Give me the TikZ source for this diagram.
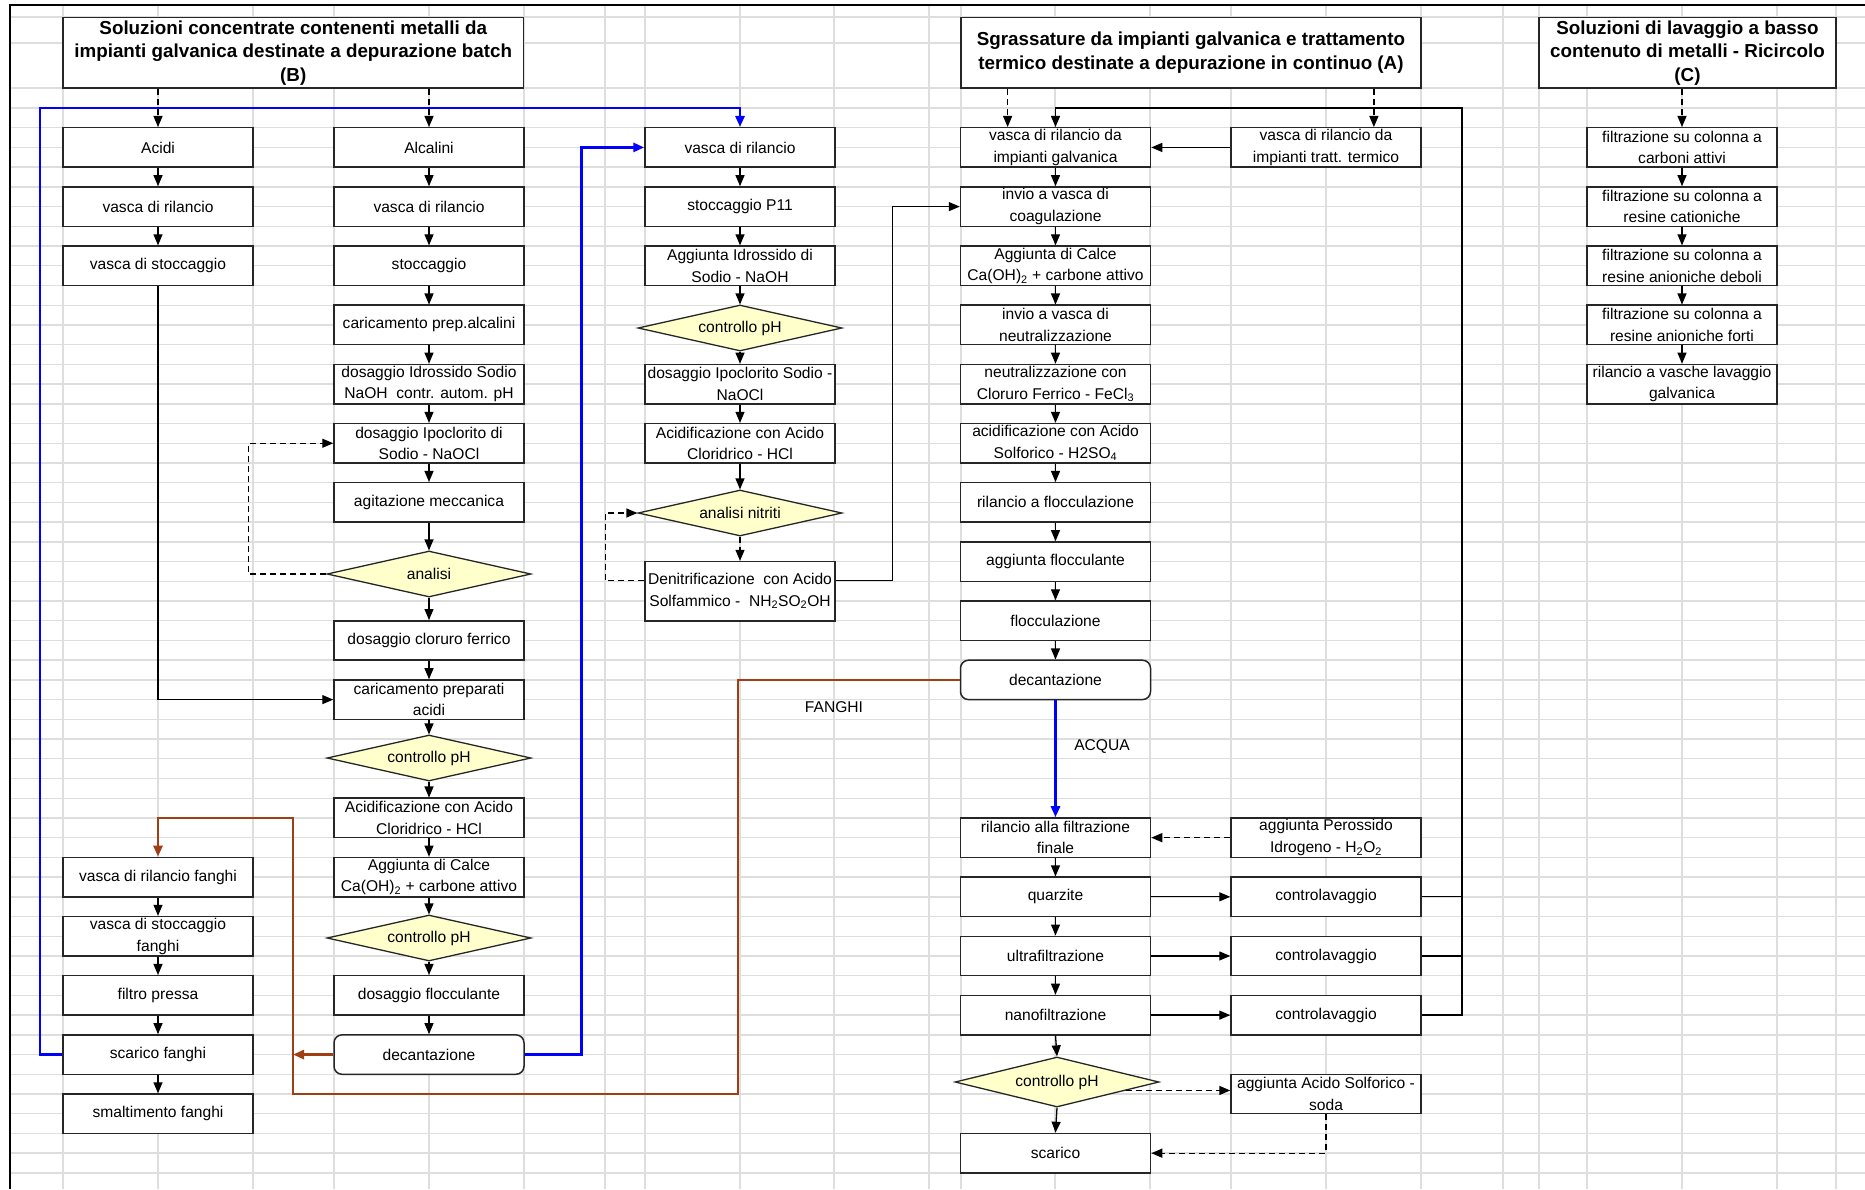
\documentclass[tikz,border=0pt]{standalone}
\usepackage{fontspec}
\setmainfont{Liberation Sans}
\usetikzlibrary{arrows.meta,shapes.geometric,calc}

\definecolor{gridgray}{RGB}{222,222,222}
\definecolor{flowblue}{RGB}{0,0,255}
\definecolor{sludge}{RGB}{160,62,20}
\definecolor{diafill}{RGB}{255,255,204}
\definecolor{edge}{RGB}{38,38,38}

\newcommand{\boxfont}{\fontsize{15.6pt}{21.5pt}\selectfont}
\newcommand{\headfont}{\bfseries\fontsize{18.8pt}{23.5pt}\selectfont}

\begin{document}
\begin{tikzpicture}[x=1pt,y=-1pt,
  declare function={rw(\k)=108+19.72*\k;},
  box/.style={draw=edge, line width=1.5pt, fill=white, minimum width=190pt,
    minimum height=39.4pt, inner sep=0pt, align=center, font=\boxfont},
  rbox/.style={box, rounded corners=8pt},
  headbox/.style={box, minimum height=70.5pt, font=\headfont},
  dia/.style={diamond, aspect=4.4, draw=edge, line width=1.3pt, fill=diafill,
    minimum width=204pt, minimum height=46pt, inner sep=0pt, font=\boxfont},
  lbl/.style={inner sep=0pt, font=\boxfont},
  tip/.style={-{Triangle[length=11pt,width=9pt]}},
  link/.style={draw=black, line width=1.3pt},
  flow/.style={link, tip},
  dflow/.style={flow, dash pattern=on 6pt off 4pt},
  blueflow/.style={draw=flowblue, line width=2.8pt, tip},
  brownline/.style={draw=sludge, line width=2.6pt},
  brownflow/.style={brownline, tip},
]
\useasboundingbox (0,0) rectangle (1865,1189);
\fill[white] (0,0) rectangle (1865,1189);

% spreadsheet grid
\foreach \gx in {63,158,253,334,429,524,605,645,740,834,929,961,1055,1150,1231,1326,1421,1503,1539,1587,1682,1777,1836}
  \draw[gridgray, line width=1.4pt] (\gx,5) -- (\gx,1189);
\foreach \gy in {17,43,88}
  \draw[gridgray, line width=1.4pt] (10,\gy) -- (1865,\gy);
\foreach \k in {0,...,54}
  \draw[gridgray, line width=1.4pt] (10,{rw(\k)}) -- (1865,{rw(\k)});
% window frame
\draw[black, line width=2.2pt] (10,1189) -- (10,5) -- (1865,5);

% ---------- headings ----------
\node[headbox, minimum width=460.5pt] (tB) at (293.25,52.75)
  {Soluzioni concentrate contenenti metalli da\\impianti galvanica destinate a depurazione batch\\(B)};
\node[headbox, minimum width=460pt] (tA) at (1191,52.75)
  {Sgrassature da impianti galvanica e trattamento\\termico destinate a depurazione in continuo (A)};
\node[headbox, minimum width=297pt] (tC) at (1687.5,52.75)
  {Soluzioni di lavaggio a basso\\contenuto di metalli - Ricircolo\\(C)};

% ---------- acids and sludge line ----------
\node[box] (acidi) at (158,{rw(2)}) {Acidi};
\node[box] (aril) at (158,{rw(5)}) {vasca di rilancio};
\node[box] (asto) at (158,{rw(8)}) {vasca di stoccaggio};
\node[box] (fril) at (158,{rw(39)}) {vasca di rilancio fanghi};
\node[box] (fsto) at (158,{rw(42)}) {vasca di stoccaggio\\fanghi};
\node[box] (fpress) at (158,{rw(45)}) {filtro pressa};
\node[box] (fscar) at (158,{rw(48)}) {scarico fanghi};
\node[box] (fsmal) at (158,{rw(51)}) {smaltimento fanghi};

% ---------- alkaline batch line ----------
\node[box] (alk) at (429,{rw(2)}) {Alcalini};
\node[box] (kril) at (429,{rw(5)}) {vasca di rilancio};
\node[box] (ksto) at (429,{rw(8)}) {stoccaggio};
\node[box] (kcar) at (429,{rw(11)}) {caricamento prep.alcalini};
\node[box] (knaoh) at (429,{rw(14)}) {dosaggio Idrossido Sodio\\NaOH\ \ contr. autom. pH};
\node[box] (kipo) at (429,{rw(17)}) {dosaggio Ipoclorito di\\Sodio - NaOCl};
\node[box] (kagi) at (429,{rw(20)}) {agitazione meccanica};
\node[dia] (kana) at (429,574) {analisi};
\node[box] (kfe) at (429,{rw(27)}) {dosaggio cloruro ferrico};
\node[box] (kacid) at (429,{rw(30)}) {caricamento preparati\\acidi};
\node[dia] (kph1) at (429,758) {controllo pH};
\node[box] (khcl) at (429,{rw(36)}) {Acidificazione con Acido\\Cloridrico - HCl};
\node[box] (kcalce) at (429,{rw(39)}) {Aggiunta di Calce\\Ca(OH)\textsubscript{2} + carbone attivo};
\node[dia] (kph2) at (429,938) {controllo pH};
\node[box] (kflo) at (429,{rw(45)}) {dosaggio flocculante};
\node[rbox] (kdec) at (429,{rw(48)}) {decantazione};

% ---------- P11 line ----------
\node[box] (pril) at (740,{rw(2)}) {vasca di rilancio};
\node[box] (psto) at (740,{rw(5)}) {stoccaggio P11};
\node[box] (pnaoh) at (740,{rw(8)}) {Aggiunta Idrossido di\\Sodio - NaOH};
\node[dia] (pph) at (740,328) {controllo pH};
\node[box] (pipo) at (740,{rw(14)}) {dosaggio Ipoclorito Sodio -\\NaOCl};
\node[box] (phcl) at (740,{rw(17)}) {Acidificazione con Acido\\Cloridrico - HCl};
\node[dia] (pnit) at (740,513) {analisi nitriti};
\node[box, minimum height=59.2pt] (pden) at (740,{rw(24.5)})
  {Denitrificazione\ \ con Acido\\Solfammico -\ \ NH\textsubscript{2}SO\textsubscript{2}OH};

% ---------- continuous line ----------
\node[box] (gal) at (1055.5,{rw(2)}) {vasca di rilancio da\\impianti galvanica};
\node[box] (coag) at (1055.5,{rw(5)}) {invio a vasca di\\coagulazione};
\node[box] (calce) at (1055.5,{rw(8)}) {Aggiunta di Calce\\Ca(OH)\textsubscript{2} + carbone attivo};
\node[box] (neut) at (1055.5,{rw(11)}) {invio a vasca di\\neutralizzazione};
\node[box] (fecl) at (1055.5,{rw(14)}) {neutralizzazione con\\Cloruro Ferrico - FeCl\textsubscript{3}};
\node[box] (hso) at (1055.5,{rw(17)}) {acidificazione con Acido\\Solforico - H2SO\textsubscript{4}};
\node[box] (rflo) at (1055.5,{rw(20)}) {rilancio a flocculazione};
\node[box] (aflo) at (1055.5,{rw(23)}) {aggiunta flocculante};
\node[box] (flo) at (1055.5,{rw(26)}) {flocculazione};
\node[rbox] (adec) at (1055.5,{rw(29)}) {decantazione};
\node[box] (fin) at (1055.5,{rw(37)}) {rilancio alla filtrazione\\finale};
\node[box] (quar) at (1055.5,{rw(40)}) {quarzite};
\node[box] (ultra) at (1055.5,{rw(43)}) {ultrafiltrazione};
\node[box] (nano) at (1055.5,{rw(46)}) {nanofiltrazione};
\node[dia, minimum height=50pt] (aph) at (1057,1082) {controllo pH};
\node[box] (scar) at (1055.5,{rw(53)}) {scarico};

% ---------- side units ----------
\node[box] (term) at (1326,{rw(2)}) {vasca di rilancio da\\impianti tratt. termico};
\node[box] (pero) at (1326,{rw(37)}) {aggiunta Perossido\\Idrogeno - H\textsubscript{2}O\textsubscript{2}};
\node[box] (cl1) at (1326,{rw(40)}) {controlavaggio};
\node[box] (cl2) at (1326,{rw(43)}) {controlavaggio};
\node[box] (cl3) at (1326,{rw(46)}) {controlavaggio};
\node[box] (acs) at (1326,{rw(50)}) {aggiunta Acido Solforico -\\soda};

% ---------- wash water recirculation ----------
\node[box] (c1) at (1682,{rw(2)}) {filtrazione su colonna a\\carboni attivi};
\node[box] (c2) at (1682,{rw(5)}) {filtrazione su colonna a\\resine cationiche};
\node[box] (c3) at (1682,{rw(8)}) {filtrazione su colonna a\\resine anioniche deboli};
\node[box] (c4) at (1682,{rw(11)}) {filtrazione su colonna a\\resine anioniche forti};
\node[box] (c5) at (1682,{rw(14)}) {rilancio a vasche lavaggio\\galvanica};

% flow labels
\node[lbl] (lfanghi) at (834,707) {FANGHI};
\node[lbl] (lacqua) at (1102,747) {ACQUA};

% ---------- connectors ----------
% inlets from the headings
\draw[dflow] (acidi.north |- tB.south) -- (acidi.north);
\draw[dflow] (alk.north |- tB.south) -- (alk.north);
\coordinate (galin) at ($(gal.north west)!0.25!(gal.north east)$);
\draw[dflow] (galin |- tA.south) -- (galin);
\coordinate (termin) at ($(term.north west)!0.75!(term.north east)$);
\draw[dflow] (termin |- tA.south) -- (termin);
\draw[dflow] (c1.north |- tC.south) -- (c1.north);

% straight steps down each column
\foreach \a/\b in {acidi/aril, aril/asto, fril/fsto, fsto/fpress, fpress/fscar, fscar/fsmal,
  alk/kril, kril/ksto, ksto/kcar, kcar/knaoh, knaoh/kipo, kipo/kagi, kagi/kana, kana/kfe,
  kfe/kacid, kacid/kph1, kph1/khcl, khcl/kcalce, kcalce/kph2, kph2/kflo, kflo/kdec,
  pril/psto, psto/pnaoh, pnaoh/pph, pph/pipo, pipo/phcl, phcl/pnit,
  gal/coag, coag/calce, calce/neut, neut/fecl, fecl/hso, hso/rflo, rflo/aflo, aflo/flo, flo/adec,
  fin/quar, quar/ultra, ultra/nano, nano/aph, aph/scar,
  c1/c2, c2/c3, c3/c4, c4/c5}
  \draw[flow] (\a.south) -- (\b.north);

% acids join the alkaline batch
\draw[flow] (asto.south) |- (kacid.west);
% analysis loop back to hypochlorite dosing
\draw[dflow] (kana.west) -- ++(-78,0) |- (kipo.west);

% nitrite analysis and denitrification
\draw[dflow] (pnit.south) -- (pden.north);
\coordinate (pdenw) at ($(pden.north west)!0.33!(pden.south west)$);
\coordinate (pdene) at ($(pden.north east)!0.33!(pden.south east)$);
\draw[dflow] (pdenw) -- ++(-39,0) |- (pnit.west);
\draw[flow] (pdene) -- ++(57,0) |- (coag.west);

% water returns (blue)
\coordinate (bluetop) at (40,{rw(0)});
\draw[blueflow] (fscar.west) -| (bluetop) -| (pril.north);
\draw[blueflow] (kdec.east) -- ++(57,0) |- (pril.west);
\draw[blueflow] (adec.south) -- (fin.north);

% sludge (brown)
\coordinate (sludgeleft) at (293,{rw(36)});
\coordinate (sludgebottom) at (738,{rw(50)});
\draw[brownflow] (adec.west) -| (sludgebottom) -| (sludgeleft) -| (fril.north);
\draw[brownflow] (kdec.west) -- (kdec.west -| sludgeleft);

% thermal treatment feed
\draw[flow] (term.west) -- (gal.east);

% final filtration and backwash
\draw[dflow] (pero.west) -- (fin.east);
\draw[flow] (quar.east) -- (cl1.west);
\draw[flow] (ultra.east) -- (cl2.west);
\draw[flow] (nano.east) -- (cl3.west);
\coordinate (looptop) at (1462,{rw(0)});
\draw[link] (cl1.east) -- (cl1.east -| looptop);
\draw[link] (cl2.east) -- (cl2.east -| looptop);
\draw[flow] (cl3.east) -| (looptop) -| (gal.north);

% pH correction before discharge
\draw[dflow] (aph.-7) -- (aph.-7 -| acs.west);
\draw[dflow] (acs.south) |- (scar.east);
\end{tikzpicture}
\end{document}
